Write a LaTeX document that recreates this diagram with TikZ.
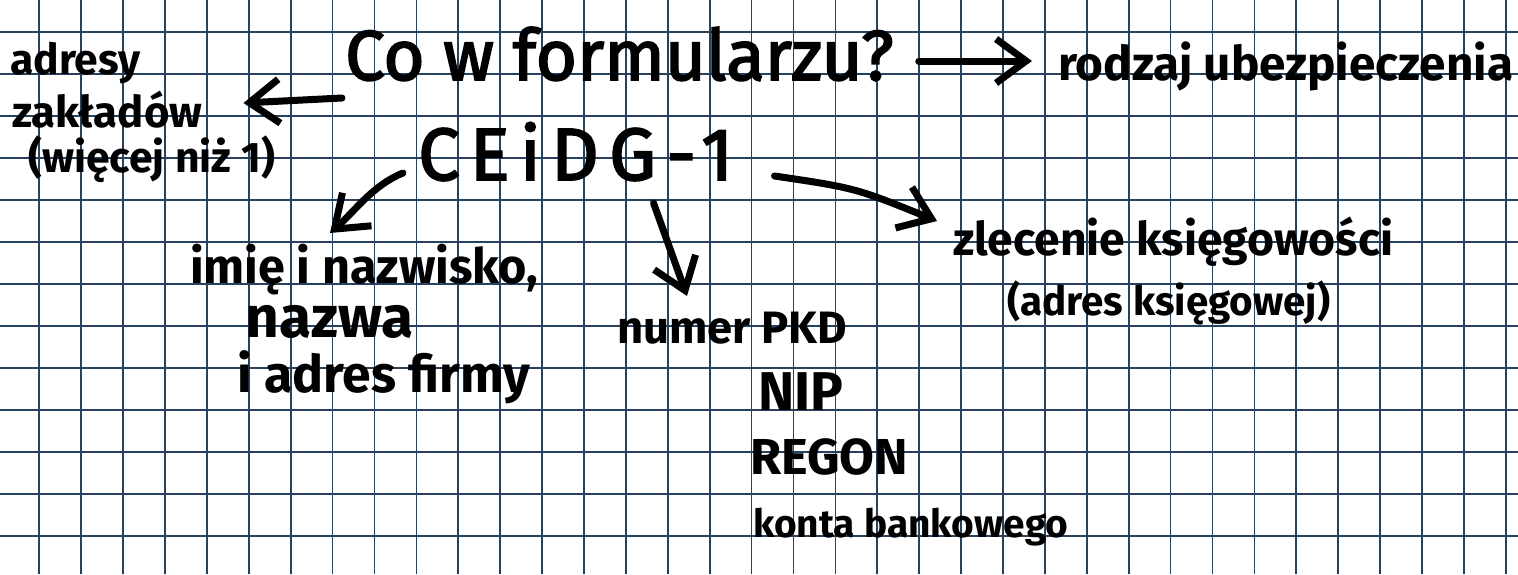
\documentclass[tikz,border=0pt]{standalone}
\usepackage{fontspec}
\setmainfont{Fira Sans}
\usetikzlibrary{arrows.meta,calc}
\definecolor{gridc}{RGB}{38,66,95}
\newcommand\fitw[2]{\resizebox{#1}{!}{#2}}
\begin{document}
\begin{tikzpicture}[x=1pt,y=-1pt,
  gridl/.style={line width=1.7pt, draw=gridc},
  txt/.style={inner sep=0pt, anchor=base west, font=\bfseries},
  bigtxt/.style={txt, font=\mdseries\addfontfeature{FakeBold=2.5}},
  ink/.style={line width=7pt, line cap=round, line join=round, draw=black},
  tip/.style={-{Straight Barb[length=30pt,width=44pt,line width=7pt]}}]
\fill[white] (0,0) rectangle (1518,574);
\useasboundingbox (0,0) rectangle (1518,574);
\foreach \i in {0,...,35} \draw[gridl] ({39.3+41.9*\i},0) -- ++(0,574);
\foreach \j in {0,...,12} \draw[gridl] (0,{32.3+41.95*\j}) -- ++(1518,0);

\node[bigtxt] (title) at (345,80) {\fitw{548pt}{Co w formularzu?}};
\node[txt] (ubez) at (1058,80) {\fitw{455pt}{rodzaj ubezpieczenia}};
\node[txt] (adr1) at (10,74) {\fitw{130pt}{adresy}};
\node[txt] (adr2) at (12,127) {\fitw{190pt}{zakładów}};
\node[txt] (adr3) at (28,172) {\fitw{247pt}{(więcej niż 1)}};
\node[bigtxt] (ceidg) at (418,180) {\fitw{315pt}{\addfontfeature{LetterSpace=14}CEiDG-1}};
\node[txt] (imie1) at (190,283) {\fitw{348pt}{imię i nazwisko,}};
\node[txt] (imie2) at (245,337) {\fitw{168pt}{nazwa}};
\node[txt] (imie3) at (237,392) {\fitw{293pt}{i adres firmy}};
\node[txt] (pkd) at (617,343) {\fitw{230pt}{numer PKD}};
\node[txt] (nip) at (758,410) {\fitw{85pt}{NIP}};
\node[txt] (regon) at (750,474) {\fitw{158pt}{REGON}};
\node[txt] (konta) at (753,537) {\fitw{315pt}{konta bankowego}};
\node[txt] (zlec1) at (953,255) {\fitw{440pt}{zlecenie księgowości}};
\node[txt] (zlec2) at (1007,315) {\fitw{323pt}{(adres księgowej)}};

\draw[ink,tip] ($(title.base west)+(-3,18)$) -- ($(adr2.base east)+(41,-24)$);
\draw[ink,tip] ($(title.base east)+(25,-19)$) -- ($(ubez.base west)+(-26,-19)$);
\draw[ink,tip] ($(ceidg.base west)+(-15,-7)$) .. controls ($(ceidg.base west)+(-45,5)$) and ($(imie1.base west)+(165,-72)$) .. ($(imie1.base west)+(140,-50)$);
\draw[ink,tip] ($(ceidg.base east)+(-80,23)$) -- ($(pkd.base west)+(70,-47)$);
\draw[ink,tip] ($(ceidg.base east)+(41,-4)$) .. controls ($(ceidg.base east)+(122,8)$) .. ($(zlec1.base west)+(-16,-34)$);
\end{tikzpicture}
\end{document}
